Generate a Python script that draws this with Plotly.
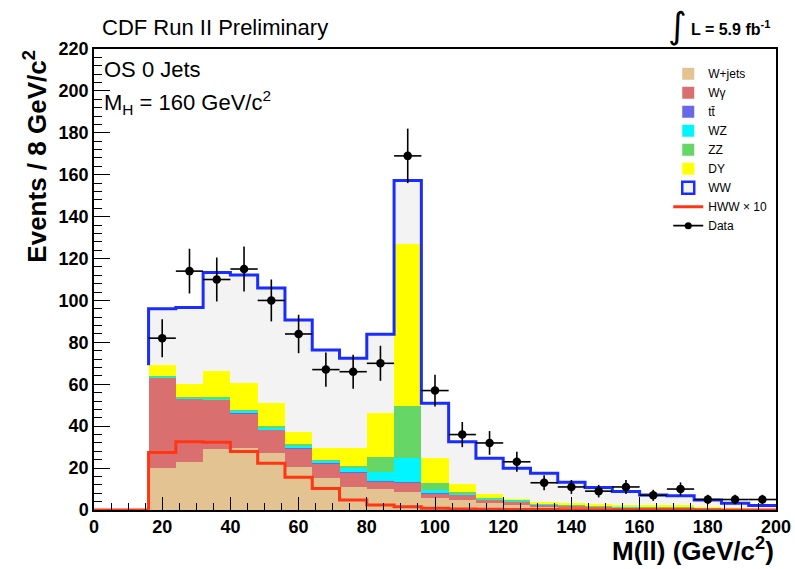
import numpy as np
import plotly.graph_objects as go

# ---------------- data ----------------
bin_edges = [16, 24, 32, 40, 48, 56, 64, 72, 80, 88, 96, 104, 112, 120, 128, 136, 144, 152, 160, 168, 176, 184, 192, 200]
bin_centers = [20, 28, 36, 44, 52, 60, 68, 76, 84, 92, 100, 108, 116, 124, 132, 140, 148, 156, 164, 172, 180, 188, 196]

wjets = [20.0, 22.7, 29.0, 29.5, 27.0, 20.7, 15.1, 11.1, 9.9, 8.8, 5.6, 4.8, 3.2, 2.4, 1.6, 1.2, 1.0, 0.8, 0.6, 0.5, 0.4, 0.3, 0.2]
wgamma = [43.0, 30.3, 23.5, 16.6, 11.2, 8.7, 7.2, 6.7, 3.6, 4.3, 2.4, 2.4, 1.6, 1.6, 1.1, 0.8, 0.6, 0.5, 0.5, 0.5, 0.4, 0.3, 0.2]
ttbar = [0.1, 0.1, 0.1, 0.2, 0.2, 0.2, 0.2, 0.2, 0.2, 0.2, 0.1, 0.1, 0.1, 0.1, 0.1, 0.1, 0.1, 0.1, 0.1, 0.1, 0.0, 0.0, 0.0]
wz = [0.8, 0.8, 0.8, 1.2, 1.2, 1.3, 1.2, 1.9, 4.6, 11.7, 1.4, 0.7, 0.4, 0.3, 0.2, 0.2, 0.2, 0.2, 0.2, 0.1, 0.1, 0.1, 0.1]
zz = [0.2, 0.2, 0.3, 0.3, 0.3, 0.4, 0.4, 1.3, 7.2, 24.8, 3.2, 0.8, 0.3, 0.4, 0.2, 0.2, 0.2, 0.2, 0.2, 0.2, 0.1, 0.1, 0.1]
dy = [5.0, 6.0, 12.6, 12.7, 11.3, 6.1, 5.3, 8.5, 20.9, 77.2, 12.3, 3.4, 1.9, 0.5, 0.8, 0.8, 0.7, 0.6, 0.7, 1.0, 0.2, 0.1, 0.1]
ww = [27.0, 36.5, 47.0, 51.7, 54.8, 53.3, 47.0, 42.7, 37.5, 30.2, 25.9, 20.4, 17.2, 14.6, 13.5, 9.9, 7.9, 6.4, 4.9, 4.4, 3.6, 2.3, 1.4]
hww_x10 = [27.4, 32.6, 32.3, 27.9, 22.3, 15.6, 10.3, 4.8, 2.4, 1.5, 0.8, 0.5, 0.3, 0.2, 0.2, 0.1, 0.1, 0.1, 0.1, 0.1, 0.0, 0.0, 0.0]
data = [82, 114, 110, 115, 100, 84, 67, 66, 70, 169, 57, 36, 32, 23, 13, 11, 9, 11, 7, 10, 5, 5, 5]

x_ticks = [0, 20, 40, 60, 80, 100, 120, 140, 160, 180, 200]
y_ticks = [0, 20, 40, 60, 80, 100, 120, 140, 160, 180, 200, 220]

# ---------------- style ----------------
FONT = "Liberation Sans"
C_WJETS = "#e2c391"
C_WG = "#d9706f"
C_TT = "#6868e8"
C_WZ = "#00f5ff"
C_ZZ = "#66d666"
C_DY = "#ffff00"
C_WW = "#f3f3f3"
C_BLUE = "#1a2dff"
C_RED = "#ff3514"

fig = go.Figure()

bw = np.diff(bin_edges)
stack = [("W+jets", wjets, C_WJETS), ("W\u03b3", wgamma, C_WG), ("tt\u0304", ttbar, C_TT),
         ("WZ", wz, C_WZ), ("ZZ", zz, C_ZZ), ("DY", dy, C_DY)]
rank = 1
for name, vals, col in stack:
    fig.add_trace(go.Bar(x=bin_centers, y=vals, width=bw, name=name,
                         marker=dict(color=col, line=dict(width=0)),
                         legendrank=rank, showlegend=True))
    rank += 1
fig.add_trace(go.Bar(x=bin_centers, y=ww, width=bw, name="WW",
                     marker=dict(color=C_WW, line=dict(width=0)), showlegend=False))
# legend-only swatch for WW
fig.add_trace(go.Bar(x=[None], y=[None], name="WW",
                     marker=dict(color=C_WW, line=dict(color=C_BLUE, width=2.5)),
                     legendrank=7, showlegend=True))

# blue outline of total
bkg = np.array(wjets) + np.array(wgamma) + np.array(ttbar) + np.array(wz) + np.array(zz) + np.array(dy)
total = bkg + np.array(ww)
bx = [bin_edges[0]] + list(bin_edges)
by = [bkg[0]] + list(total) + [total[-1]]
fig.add_trace(go.Scatter(x=bx, y=by, mode="lines", line=dict(color=C_BLUE, width=3, shape="hv"),
                         showlegend=False, hoverinfo="skip"))

# HWW x10
hx = [0] + list(bin_edges)
hy = [0] + list(hww_x10) + [hww_x10[-1]]
fig.add_trace(go.Scatter(x=hx, y=hy, mode="lines", name="HWW \u00d7 10",
                         line=dict(color=C_RED, width=3, shape="hv"), legendrank=8))

# data
fig.add_trace(go.Scatter(x=bin_centers, y=data, mode="markers", name="Data", showlegend=False,
                         marker=dict(color="black", size=8.5),
                         error_y=dict(type="data", array=np.sqrt(data), width=0, thickness=1.6, color="black"),
                         error_x=dict(type="constant", value=4, width=0, thickness=1.6, color="black")))
fig.add_trace(go.Scatter(x=[None], y=[None], mode="lines+markers", name="Data",
                         marker=dict(color="black", size=7), line=dict(color="black", width=1.6),
                         legendrank=9))

fig.update_layout(
    width=795, height=569,
    margin=dict(l=94, r=19, t=49, b=59, autoexpand=False),
    paper_bgcolor="white", plot_bgcolor="white",
    barmode="stack", bargap=0,
    font=dict(family=FONT, color="black"),
    legend=dict(x=0.842, y=0.978, xanchor="left", yanchor="top", traceorder="normal",
                font=dict(family=FONT, size=12, color="black"), bgcolor="rgba(255,255,255,0)",
                itemwidth=30, tracegroupgap=0),
    xaxis=dict(range=[0, 200], tickvals=x_ticks, ticks="inside", ticklen=13, tickwidth=1.3,
               tickcolor="black", showline=True, linecolor="black", linewidth=1.5, mirror=True,
               showgrid=False, zeroline=False, automargin=False,
               minor=dict(dtick=5, ticks="inside", ticklen=7, tickwidth=1.2, tickcolor="black", showgrid=False),
               tickfont=dict(family=FONT, size=18, weight="bold", color="black")),
    yaxis=dict(range=[0, 220], tickvals=y_ticks, ticks="inside", ticklen=16, tickwidth=1.3,
               tickcolor="black", showline=True, linecolor="black", linewidth=1.5, mirror=True,
               showgrid=False, zeroline=False, automargin=False,
               minor=dict(dtick=4, ticks="inside", ticklen=8, tickwidth=1.2, tickcolor="black", showgrid=False),
               tickfont=dict(family=FONT, size=18, weight="bold", color="black")),
)

ann = [
    dict(text="CDF Run II Preliminary", x=0.009, y=1.046, xanchor="left", yanchor="middle",
         font=dict(size=22, family=FONT)),
    dict(text="OS 0 Jets", x=0.011, y=0.955, xanchor="left", yanchor="middle",
         font=dict(size=22, family=FONT)),
    dict(text="M<sub>H</sub> = 160 GeV/c<sup>2</sup>", x=0.011, y=0.885, xanchor="left", yanchor="middle",
         font=dict(size=22, family=FONT)),
    dict(text="\u222b", x=0.855, y=1.052, xanchor="center", yanchor="middle",
         font=dict(size=36, family="DejaVu Sans")),
    dict(text="L = 5.9 fb<sup>-1</sup>", x=0.873, y=1.045, xanchor="left", yanchor="middle",
         font=dict(size=16, family=FONT, weight="bold")),
    dict(text="Events / 8 GeV/c<sup>2</sup>", x=-0.087, y=1.0, xanchor="center", yanchor="top",
         textangle=-90, font=dict(size=26, family=FONT, weight="bold")),
    dict(text="M(ll) (GeV/c<sup>2</sup>)", x=1.0, y=-0.085, xanchor="right", yanchor="middle",
         font=dict(size=26, family=FONT, weight="bold")),
]
for a in ann:
    a.update(xref="paper", yref="paper", showarrow=False)
    fig.add_annotation(**a)

fig.write_html("out.html")
